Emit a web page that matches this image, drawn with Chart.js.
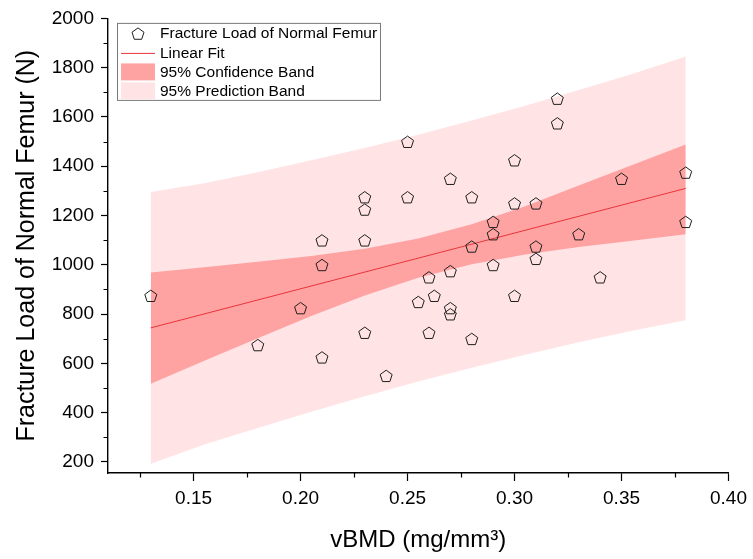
<!DOCTYPE html>
<html>
<head>
<meta charset="utf-8">
<script src="https://cdn.jsdelivr.net/npm/chart.js@4/dist/chart.umd.min.js"></script>
<style>
  html, body { margin: 0; padding: 0; background: #ffffff; }
  #wrap { width: 753px; height: 559px; }
</style>
</head>
<body>
<div id="wrap"><canvas id="chart" width="753" height="559"></canvas></div>
<script>
// Measured specimens: volumetric BMD (mg/mm^3) vs fracture load (N)
const bmd = [
  0.13, 0.18, 0.20, 0.21, 0.21, 0.21, 0.23, 0.23, 0.23, 0.23,
  0.24, 0.25, 0.25, 0.255, 0.26, 0.26, 0.2625, 0.27, 0.27, 0.27,
  0.27, 0.28, 0.28, 0.28, 0.29, 0.29, 0.29, 0.30, 0.30, 0.30,
  0.31, 0.31, 0.31, 0.32, 0.32, 0.33, 0.34, 0.35, 0.38, 0.38
];
const fractureLoad = [
  875, 675, 825, 1100, 1000, 625, 1275, 1225, 1100, 725,
  550, 1500, 1275, 850, 950, 725, 875, 1350, 975, 825,
  800, 1275, 1075, 700, 1175, 1125, 1000, 1425, 1250, 875,
  1250, 1075, 1025, 1675, 1575, 1125, 950, 1350, 1375, 1175
];

// Linear fit end points
const fitX = [0.13, 0.38];
const fitY = [744, 1310];

// Band edges sampled along the fitted range
const bandX   = [0.13, 0.155, 0.18, 0.205, 0.23, 0.255, 0.28, 0.305, 0.33, 0.355, 0.38];
const ciUpper = [969, 990, 1012, 1036, 1065, 1107, 1165, 1238, 1322, 1405, 1488];
const ciLower = [517, 611, 702, 792, 875, 947, 1002, 1042, 1072, 1098, 1124];
const piUpper = [1295, 1331, 1376, 1424, 1474, 1528, 1586, 1645, 1709, 1774, 1845];
const piLower = [193, 271, 338, 404, 466, 526, 582, 635, 686, 732, 775];

// Axis ticks
const xTicks = [0.15, 0.20, 0.25, 0.30, 0.35, 0.40];
const xMinor = [0.125, 0.175, 0.225, 0.275, 0.325, 0.375];
const yTicks = [200, 400, 600, 800, 1000, 1200, 1400, 1600, 1800, 2000];
const yMinor = [300, 500, 700, 900, 1100, 1300, 1500, 1700, 1900];

const legendLabels = [
  'Fracture Load of Normal Femur',
  'Linear Fit',
  '95% Confidence Band',
  '95% Prediction Band'
];

const FONT = '"Liberation Sans", Arial, Helvetica, sans-serif';
const PRED_COLOR = '#ffe3e5';
const CONF_COLOR = '#ffa2a2';
const FIT_COLOR = '#e8353a';
const MARK_COLOR = '#1e1e1e';
const MARK_R = 6.3;

// Open pentagon marker
function pentagonPath(ctx, cx, cy, r) {
  ctx.beginPath();
  for (let i = 0; i < 5; i++) {
    const a = -Math.PI / 2 + i * 2 * Math.PI / 5;
    const px = cx + r * Math.cos(a);
    const py = cy + r * Math.sin(a);
    if (i === 0) ctx.moveTo(px, py); else ctx.lineTo(px, py);
  }
  ctx.closePath();
}
function strokePentagon(ctx, cx, cy) {
  ctx.save();
  ctx.strokeStyle = MARK_COLOR;
  ctx.lineWidth = 1;
  ctx.lineJoin = 'miter';
  pentagonPath(ctx, cx, cy + 0.8, MARK_R);
  ctx.stroke();
  ctx.restore();
}

const toXY = (xs, ys) => xs.map((x, i) => ({ x: x, y: ys[i] }));

// Pentagon markers placed at the scatter dataset's element positions
const pentagonMarkers = {
  id: 'pentagonMarkers',
  afterDatasetsDraw(chart) {
    const meta = chart.getDatasetMeta(0);
    meta.data.forEach(el => strokePentagon(chart.ctx, el.x, el.y));
  }
};

// Minor tick marks on both axes
const minorTicks = {
  id: 'minorTicks',
  afterDraw(chart) {
    const ctx = chart.ctx;
    const xs = chart.scales.x, ys = chart.scales.y;
    const area = chart.chartArea;
    ctx.save();
    ctx.strokeStyle = '#000';
    ctx.lineWidth = 1.2;
    ctx.beginPath();
    xMinor.forEach(v => {
      const px = Math.round(xs.getPixelForValue(v)) + 0.5;
      ctx.moveTo(px, area.bottom);
      ctx.lineTo(px, area.bottom + 4.5);
    });
    yMinor.forEach(v => {
      const py = Math.round(ys.getPixelForValue(v)) + 0.5;
      ctx.moveTo(area.left, py);
      ctx.lineTo(area.left - 4.5, py);
    });
    ctx.stroke();
    ctx.restore();
  }
};

// Boxed legend inside the plot, top-left
const boxLegend = {
  id: 'boxLegend',
  afterDraw(chart) {
    const ctx = chart.ctx;
    const area = chart.chartArea;
    const x0 = area.left + 9, y0 = area.top + 4.5;
    const w = 263, h = 77;
    ctx.save();
    ctx.fillStyle = '#ffffff';
    ctx.fillRect(x0, y0, w, h);
    ctx.strokeStyle = '#7a7a7a';
    ctx.lineWidth = 1;
    ctx.strokeRect(x0 + 0.5, y0 + 0.5, w, h);
    const rowY = [y0 + 10.5, y0 + 30, y0 + 49, y0 + 68];
    const symL = x0 + 4, symR = x0 + 38, symC = (symL + symR) / 2;
    // marker
    strokePentagon(ctx, symC, rowY[0]);
    // fit line
    ctx.strokeStyle = FIT_COLOR;
    ctx.lineWidth = 1;
    ctx.beginPath();
    ctx.moveTo(symL, rowY[1] + 0.5);
    ctx.lineTo(symR, rowY[1] + 0.5);
    ctx.stroke();
    // band swatches
    ctx.fillStyle = CONF_COLOR;
    ctx.fillRect(symL, rowY[2] - 8.5, symR - symL, 17);
    ctx.fillStyle = PRED_COLOR;
    ctx.fillRect(symL, rowY[3] - 8.5, symR - symL, 17);
    // labels
    ctx.fillStyle = '#000';
    ctx.font = '15.5px ' + FONT;
    ctx.textBaseline = 'middle';
    ctx.textAlign = 'left';
    legendLabels.forEach((t, i) => ctx.fillText(t, x0 + 43, rowY[i] + 0.5));
    ctx.restore();
  }
};

new Chart(document.getElementById('chart'), {
  type: 'scatter',
  data: {
    datasets: [
      {
        label: legendLabels[0],
        data: toXY(bmd, fractureLoad),
        pointRadius: 0,
        pointHoverRadius: 0,
        showLine: false,
        order: 0
      },
      {
        label: legendLabels[1],
        data: toXY(fitX, fitY),
        showLine: true,
        borderColor: FIT_COLOR,
        borderWidth: 1,
        pointRadius: 0,
        fill: false,
        order: 1
      },
      {
        label: legendLabels[2],
        data: toXY(bandX, ciUpper),
        showLine: true,
        borderWidth: 0,
        borderColor: 'rgba(0,0,0,0)',
        backgroundColor: CONF_COLOR,
        pointRadius: 0,
        tension: 0,
        fill: '+1',
        order: 2
      },
      {
        label: 'ci-lower',
        data: toXY(bandX, ciLower),
        showLine: true,
        borderWidth: 0,
        borderColor: 'rgba(0,0,0,0)',
        pointRadius: 0,
        tension: 0,
        fill: false,
        order: 3
      },
      {
        label: legendLabels[3],
        data: toXY(bandX, piUpper),
        showLine: true,
        borderWidth: 0,
        borderColor: 'rgba(0,0,0,0)',
        backgroundColor: PRED_COLOR,
        pointRadius: 0,
        tension: 0,
        fill: '+1',
        order: 4
      },
      {
        label: 'pi-lower',
        data: toXY(bandX, piLower),
        showLine: true,
        borderWidth: 0,
        borderColor: 'rgba(0,0,0,0)',
        pointRadius: 0,
        tension: 0,
        fill: false,
        order: 5
      }
    ]
  },
  options: {
    responsive: false,
    animation: false,
    devicePixelRatio: 1,
    layout: { padding: { top: 17, right: 21, left: 0, bottom: 0 } },
    plugins: {
      legend: { display: false },
      tooltip: { enabled: false }
    },
    scales: {
      x: {
        type: 'linear',
        min: 0.11,
        max: 0.40,
        afterBuildTicks: s => { s.ticks = xTicks.map(v => ({ value: v })); },
        afterFit: s => { s.height = 86; },
        border: { display: true, color: '#000', width: 1.4 },
        grid: { display: true, drawOnChartArea: false, drawTicks: true, tickLength: 8, tickColor: '#000', tickWidth: 1.2 },
        ticks: {
          color: '#000',
          font: { family: FONT, size: 19 },
          padding: 6,
          maxRotation: 0,
          callback: v => Number(v).toFixed(2)
        },
        title: {
          display: true,
          text: 'vBMD (mg/mm³)',
          color: '#000',
          font: { family: FONT, size: 24 },
          padding: { top: 0, bottom: 4 }
        }
      },
      y: {
        type: 'linear',
        min: 155,
        max: 2000,
        afterBuildTicks: s => { s.ticks = yTicks.map(v => ({ value: v })); },
        afterFit: s => { s.width = 108; },
        border: { display: true, color: '#000', width: 1.4 },
        grid: { display: true, drawOnChartArea: false, drawTicks: true, tickLength: 7, tickColor: '#000', tickWidth: 1.2 },
        ticks: {
          color: '#000',
          font: { family: FONT, size: 19 },
          padding: 7,
          callback: v => String(v)
        },
        title: {
          display: true,
          text: 'Fracture Load of Normal Femur (N)',
          color: '#000',
          font: { family: FONT, size: 25 },
          padding: { top: 12, bottom: 0 }
        }
      }
    }
  },
  plugins: [pentagonMarkers, minorTicks, boxLegend]
});
</script>
</body>
</html>
